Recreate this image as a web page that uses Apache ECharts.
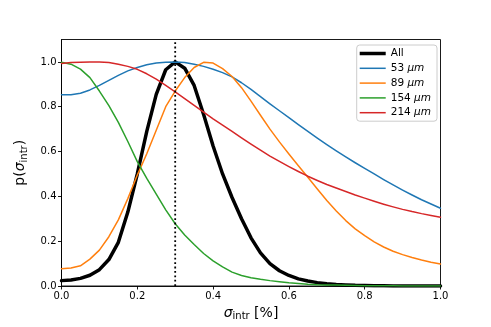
<!DOCTYPE html>
<html>
<head>
<meta charset="utf-8">
<script src="https://cdn.jsdelivr.net/npm/echarts@6/dist/echarts.min.js"></script>
<style>
html,body{margin:0;padding:0;background:#fff;}
#c{width:491px;height:327px;}
</style>
</head>
<body>
<div id="c"></div>
<script>
// sigma_intr sample positions (fraction, axis shows 0..1)
var xs = [0,0.025,0.05,0.075,0.1,0.125,0.15,0.175,0.2,0.225,0.25,0.275,0.3,0.325,0.35,0.375,0.4,0.425,0.45,0.475,0.5,0.525,0.55,0.575,0.6,0.625,0.65,0.675,0.7,0.725,0.75,0.775,0.8,0.825,0.85,0.875,0.9,0.925,0.95,0.975,1.0];

var allVals = [0.024,0.027,0.034,0.048,0.073,0.118,0.195,0.33,0.5,0.69,0.855,0.965,1.0,0.972,0.895,0.765,0.625,0.5,0.395,0.3,0.215,0.148,0.1,0.068,0.047,0.032,0.022,0.015,0.01,0.007,0.005,0.003,0.002,0.0012,0.0007,0.0004,0.0002,0.0001,0.0001,0,0];

var v53 = [0.854,0.853,0.86,0.875,0.895,0.918,0.94,0.96,0.975,0.987,0.995,0.999,1.0,0.997,0.99,0.98,0.967,0.952,0.933,0.907,0.877,0.845,0.813,0.782,0.751,0.72,0.69,0.66,0.631,0.603,0.576,0.55,0.525,0.5,0.475,0.451,0.428,0.406,0.385,0.366,0.347];

var v89 = [0.077,0.08,0.09,0.12,0.16,0.22,0.295,0.39,0.495,0.59,0.695,0.8,0.87,0.93,0.975,0.998,0.995,0.97,0.935,0.885,0.825,0.762,0.7,0.643,0.589,0.537,0.485,0.433,0.382,0.335,0.292,0.255,0.225,0.197,0.174,0.155,0.14,0.127,0.116,0.106,0.098];

var v154 = [0.998,0.99,0.968,0.93,0.87,0.805,0.73,0.645,0.555,0.48,0.41,0.34,0.278,0.228,0.185,0.145,0.112,0.085,0.062,0.047,0.037,0.03,0.024,0.019,0.014,0.011,0.008,0.006,0.005,0.004,0.003,0.002,0.0015,0.001,0.0008,0.0006,0.0004,0.0003,0.0002,0.0001,0.0001];

var v214 = [0.993,0.997,0.999,1.0,1.0,0.997,0.99,0.98,0.967,0.947,0.923,0.895,0.866,0.836,0.806,0.776,0.746,0.718,0.69,0.661,0.633,0.606,0.58,0.556,0.533,0.511,0.49,0.471,0.453,0.437,0.422,0.406,0.392,0.378,0.365,0.353,0.342,0.332,0.323,0.315,0.307];

var seriesNames = ['All','53 μm','89 μm','154 μm','214 μm'];
var seriesColors = ['#000000','#1f77b4','#ff7f0e','#2ca02c','#d62728'];
var seriesWidths = [3.5,1.5,1.5,1.5,1.5];
var seriesVals = [allVals,v53,v89,v154,v214];

var xTicks = [0,0.2,0.4,0.6,0.8,1.0];
var yTicks = [0,0.2,0.4,0.6,0.8,1.0];
var markerX = 0.3;

function pairs(v){ return xs.map(function(x,i){ return [x, v[i]]; }); }

var FONT = 'DejaVu Sans';
var series = seriesVals.map(function(v,i){
  return {
    name: seriesNames[i], type:'line', data: pairs(v),
    symbol:'none', showSymbol:false, smooth:false,
    lineStyle:{color:seriesColors[i], width:seriesWidths[i], join:'round', cap:'round'},
    itemStyle:{color:seriesColors[i]},
    z: 2 + i, animation:false
  };
});
series.push({
  name:'marker', type:'line', data:[[markerX,0],[markerX,1.1]],
  symbol:'none', lineStyle:{color:'#000', width:1.8, type:[1.8,2.6]},
  z:10, animation:false, silent:true
});

var legendData = seriesNames.map(function(n,i){
  var h = seriesWidths[i];
  return {name:n, icon:'path://M0,0L26,0L26,' + h + 'L0,' + h + 'Z', itemStyle:{color:seriesColors[i]}};
});

var chart = echarts.init(document.getElementById('c'), null, {renderer:'canvas'});
chart.setOption({
  backgroundColor:'#ffffff',
  animation:false,
  textStyle:{fontFamily:FONT},
  grid:{left:61.5, right:50.5, top:39.5, bottom:41, show:true, borderColor:'#000', borderWidth:0.9, backgroundColor:'transparent'},
  legend:{
    data: legendData,
    orient:'vertical', right:54, top:45,
    itemWidth:26, itemHeight:14, itemGap:3.8,
    padding:[3,6,3,3],
    borderColor:'#cccccc', borderWidth:1, borderRadius:3,
    backgroundColor:'rgba(255,255,255,0.8)',
    textStyle:{fontFamily:FONT, fontSize:10.5, color:'#000',
      rich:{
        n:{fontFamily:FONT, fontSize:10.5, color:'#000'},
        u:{fontFamily:FONT, fontSize:10.5, fontStyle:'italic', color:'#000'}
      }},
    formatter:function(name){
      var p = name.split(' ');
      if (p.length < 2) return name;
      return '{n|' + p[0] + ' }{u|' + p[1] + '}';
    }
  },
  xAxis:{
    type:'value', min:0, max:1, interval:0.2,
    name:'{s|σ}{sub|intr}{t| [%]}', nameLocation:'middle', nameGap:17,
    nameTextStyle:{fontFamily:FONT, fontSize:14, color:'#000',
      rich:{
        s:{fontFamily:FONT, fontSize:14, fontStyle:'italic', lineHeight:18, color:'#000'},
        sub:{fontFamily:FONT, fontSize:10, lineHeight:10, verticalAlign:'bottom', color:'#000'},
        t:{fontFamily:FONT, fontSize:14, lineHeight:18, color:'#000'}
      }},
    axisLine:{show:true, onZero:false, lineStyle:{color:'#000', width:0.9}},
    axisTick:{show:true, length:3.5, inside:false, lineStyle:{color:'#000', width:0.9}, customValues: xTicks},
    axisLabel:{fontFamily:FONT, fontSize:10, color:'#000', margin:5, customValues: xTicks,
      formatter:function(v){ return v.toFixed(1); }},
    splitLine:{show:false}
  },
  yAxis:{
    type:'value', min:0, max:1.1, interval:0.2,
    name:'{t|p(}{s|σ}{sub|intr}{t|)}', nameLocation:'middle', nameGap:28, nameRotate:90,
    nameTextStyle:{fontFamily:FONT, fontSize:14, color:'#000',
      rich:{
        s:{fontFamily:FONT, fontSize:14, fontStyle:'italic', lineHeight:18, color:'#000'},
        sub:{fontFamily:FONT, fontSize:10, lineHeight:10, verticalAlign:'bottom', color:'#000'},
        t:{fontFamily:FONT, fontSize:14, lineHeight:18, color:'#000'}
      }},
    axisLine:{show:true, onZero:false, lineStyle:{color:'#000', width:0.9}},
    axisTick:{show:true, length:3.5, inside:false, lineStyle:{color:'#000', width:0.9}, customValues: yTicks},
    axisLabel:{fontFamily:FONT, fontSize:10, color:'#000', margin:5, customValues: yTicks,
      formatter:function(v){ return v.toFixed(1); }},
    splitLine:{show:false}
  },
  series: series
});
</script>
</body>
</html>
